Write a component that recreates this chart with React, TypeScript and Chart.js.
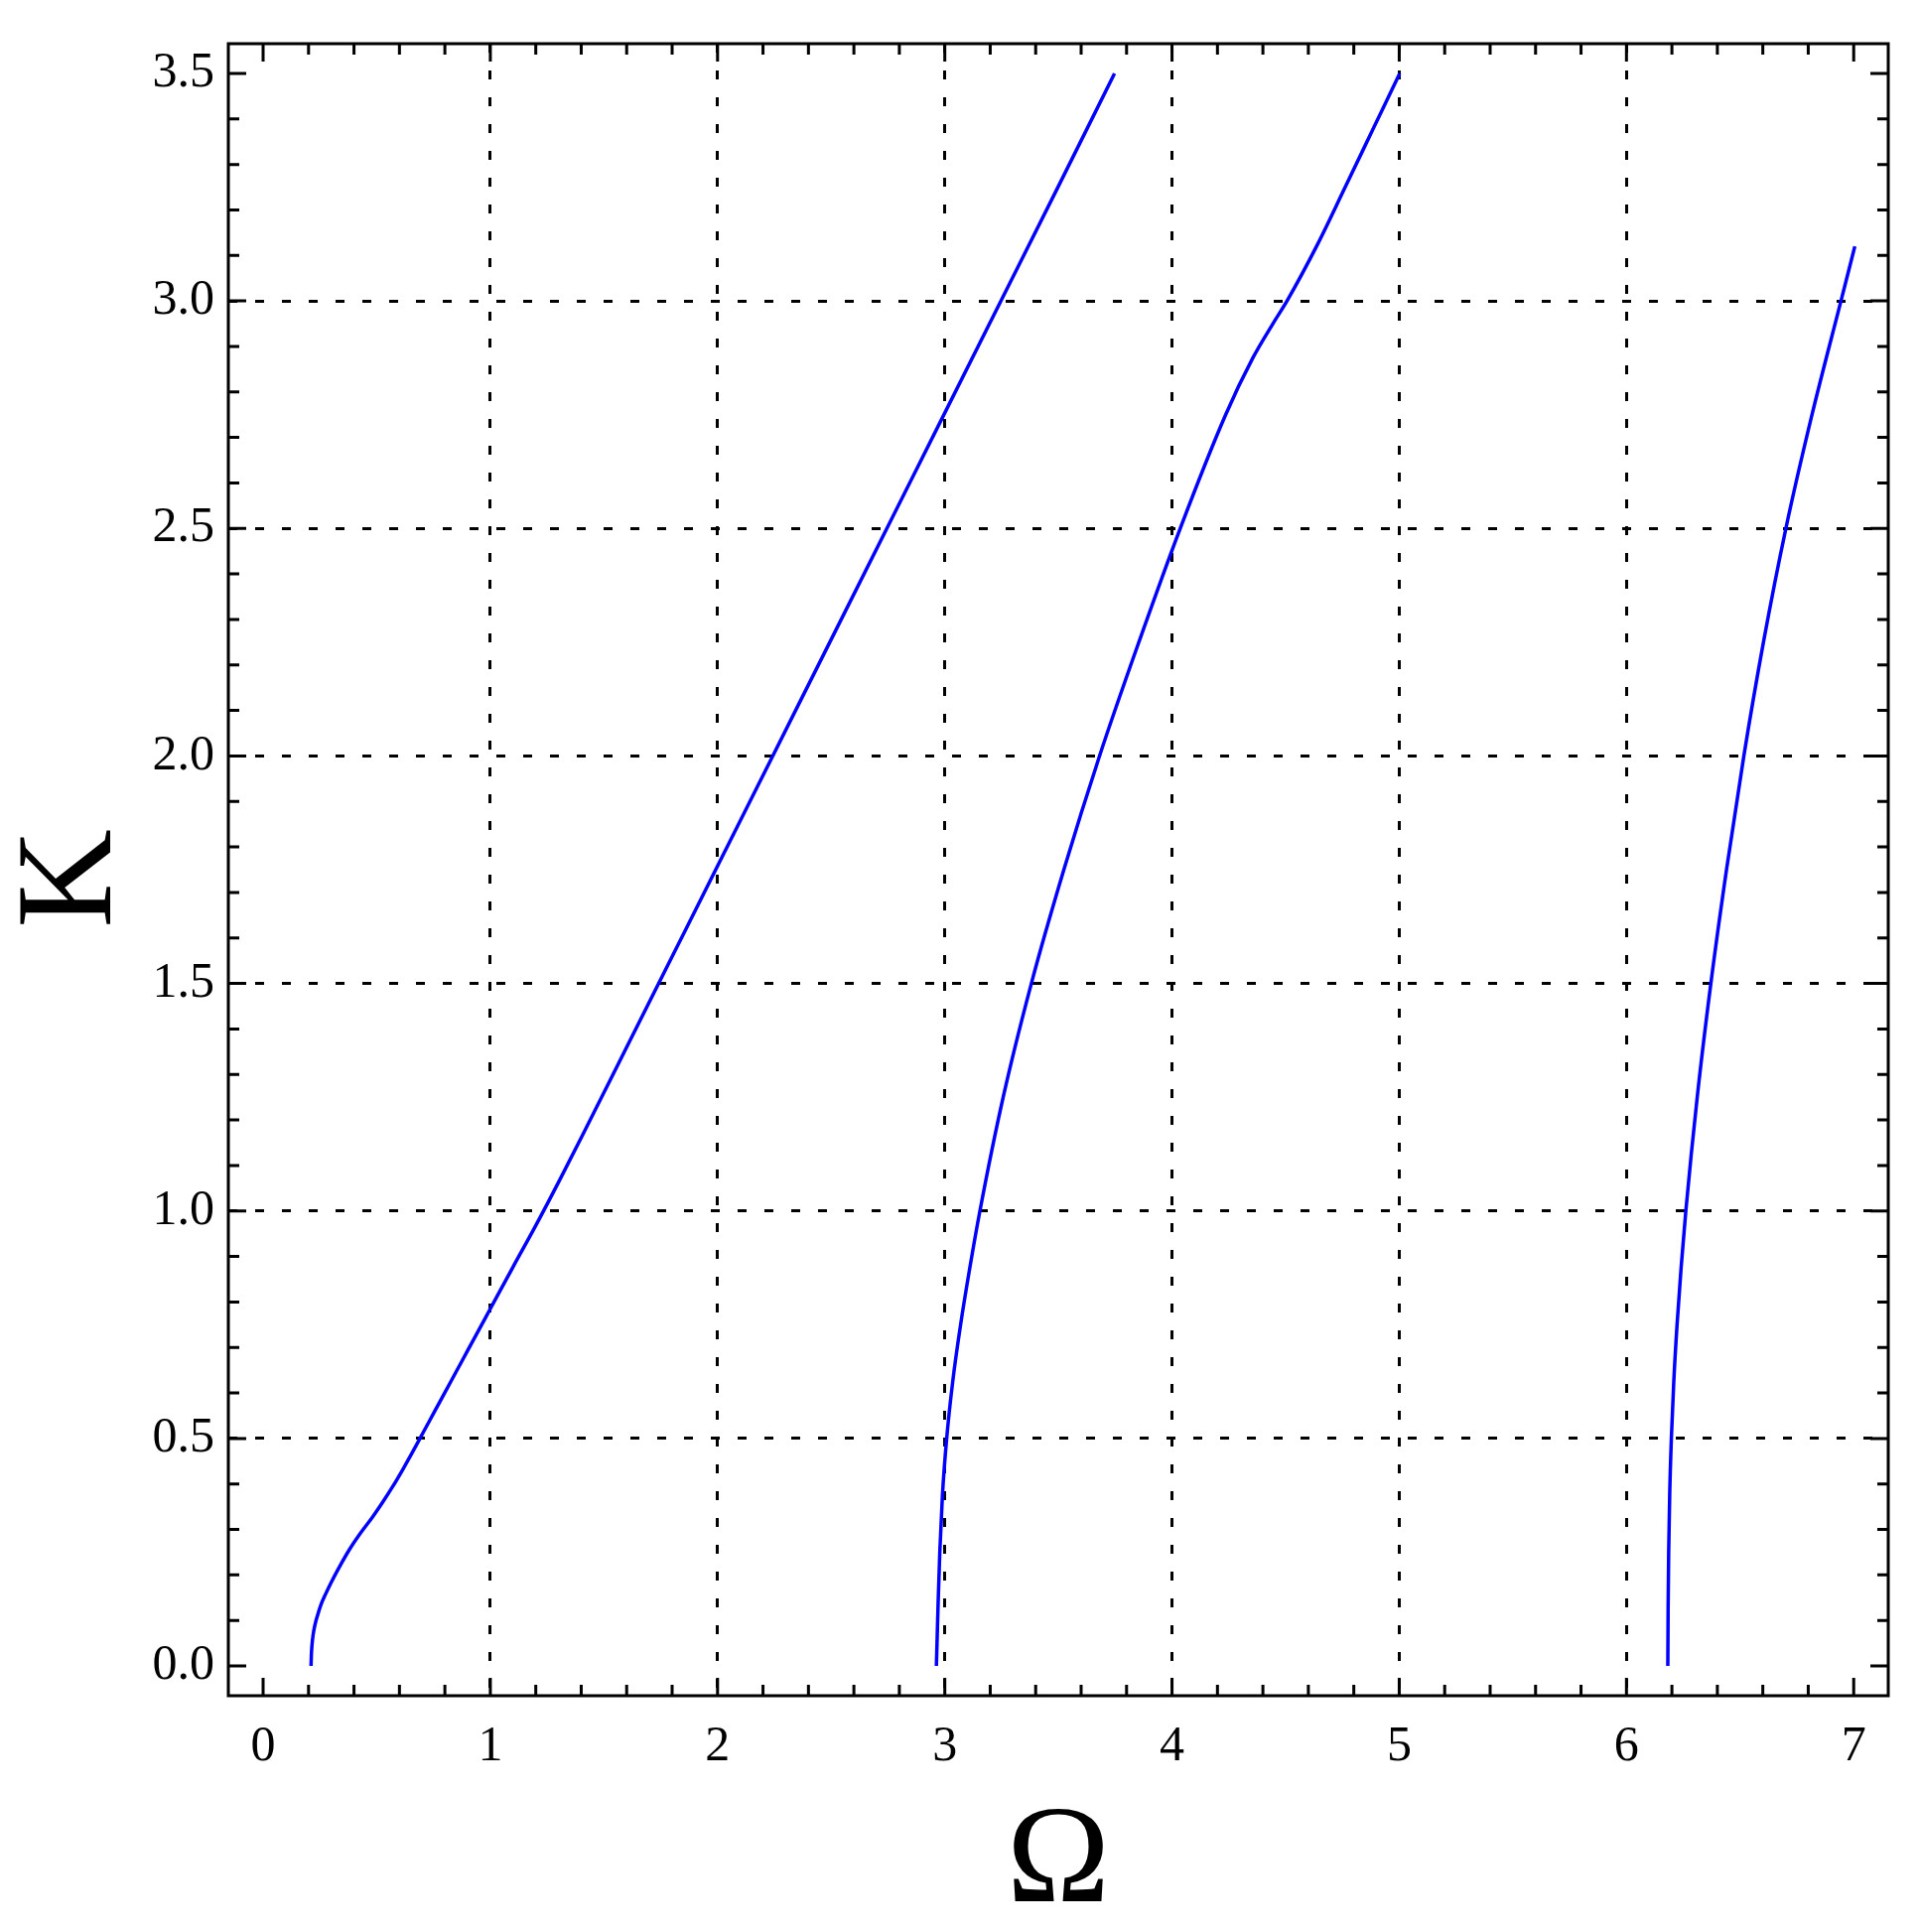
import React, { useEffect, useRef } from 'react';
import { Chart, registerables } from 'chart.js';

Chart.register(...registerables);

// ---- axis ticks / grid ----
const X_TICKS = [0, 1, 2, 3, 4, 5, 6, 7];
const Y_TICKS = [0, 0.5, 1, 1.5, 2, 2.5, 3, 3.5];
const X_GRID = [1, 2, 3, 4, 5, 6];
const Y_GRID = [0.5, 1, 1.5, 2, 2.5, 3];
const X_MINOR_STEP = 0.2;
const Y_MINOR_STEP = 0.1;
const X_MIN = -0.153;
const X_MAX = 7.152;
const Y_MIN = -0.0654;
const Y_MAX = 3.5654;
const X_TITLE = 'Ω';
const Y_TITLE = 'K';

// ---- branch 1 ----
const B1_OMEGA = [
  0.211, 0.2125, 0.215, 0.220, 0.228, 0.240, 0.255, 0.275, 0.300, 0.335, 0.380, 0.430, 0.481,
  0.525, 0.570, 0.615, 0.660, 0.700, 0.750, 0.800, 0.850, 0.900, 0.950, 1.000, 1.100, 1.200,
  1.300, 1.400, 1.600, 1.800, 2.000, 2.250, 2.500, 2.750, 3.000, 3.250, 3.500, 3.747,
];
const B1_K = [
  0.000, 0.025, 0.045, 0.068, 0.090, 0.112, 0.135, 0.158, 0.184, 0.217, 0.256, 0.293, 0.327,
  0.359, 0.394, 0.432, 0.472, 0.509, 0.555, 0.601, 0.647, 0.693, 0.739, 0.785, 0.877, 0.968,
  1.063, 1.161, 1.360, 1.559, 1.758, 2.007, 2.256, 2.505, 2.754, 3.003, 3.252, 3.500,
];

// ---- branch 2 ----
const B2_OMEGA = [
  2.963, 2.9658, 2.9685, 2.9714, 2.978, 2.9896, 3.0083, 3.0349, 3.0696, 3.1102, 3.1546, 3.257,
  3.381, 3.524, 3.681, 3.854, 4.036, 4.236, 4.356, 4.444, 4.506, 4.641, 4.762, 4.882, 5.002,
];
const B2_K = [
  0.000, 0.050, 0.100, 0.150, 0.250, 0.375, 0.500, 0.625, 0.750, 0.875, 1.000, 1.250,
  1.500, 1.750, 2.000, 2.250, 2.500, 2.750, 2.875, 2.950, 3.000, 3.125, 3.250, 3.375, 3.500,
];

// ---- branch 3 ----
const B3_OMEGA = [
  6.182, 6.1833, 6.1858, 6.1902, 6.1976, 6.2082, 6.2226, 6.2404, 6.2613, 6.3114, 6.3714,
  6.4402, 6.5165, 6.6028, 6.7015, 6.8165, 6.944, 7.005,
];
const B3_K = [
  0.000, 0.125, 0.250, 0.375, 0.500, 0.625, 0.750, 0.875, 1.000, 1.250, 1.500,
  1.750, 2.000, 2.250, 2.500, 2.750, 3.000, 3.120,
];

const toPoints = (xs: number[], ys: number[]) => xs.map((x, i) => ({ x, y: ys[i] }));

const near = (v: number, arr: number[]) => arr.some((a) => Math.abs(a - v) < 1e-6);

const frameTicksPlugin = {
  id: 'frameTicks',
  afterDraw(chart: any) {
    const { ctx, chartArea: a, scales } = chart;
    const xs = scales.x;
    const ys = scales.y;
    const MAJOR = 18;
    const MINOR = 11;
    ctx.save();
    ctx.strokeStyle = '#000';
    ctx.lineWidth = 3;
    ctx.lineCap = 'butt';
    ctx.setLineDash([]);
    ctx.beginPath();
    const xk0 = Math.ceil(xs.min / X_MINOR_STEP - 1e-9);
    const xk1 = Math.floor(xs.max / X_MINOR_STEP + 1e-9);
    for (let k = xk0; k <= xk1; k++) {
      const v = k * X_MINOR_STEP;
      const len = near(v, X_TICKS) ? MAJOR : MINOR;
      const p = xs.getPixelForValue(v);
      ctx.moveTo(p, a.bottom);
      ctx.lineTo(p, a.bottom - len);
      ctx.moveTo(p, a.top);
      ctx.lineTo(p, a.top + len);
    }
    const yk0 = Math.ceil(ys.min / Y_MINOR_STEP - 1e-9);
    const yk1 = Math.floor(ys.max / Y_MINOR_STEP + 1e-9);
    for (let k = yk0; k <= yk1; k++) {
      const v = k * Y_MINOR_STEP;
      const len = near(v, Y_TICKS) ? MAJOR : MINOR;
      const p = ys.getPixelForValue(v);
      ctx.moveTo(a.left, p);
      ctx.lineTo(a.left + len, p);
      ctx.moveTo(a.right, p);
      ctx.lineTo(a.right - len, p);
    }
    ctx.stroke();
    ctx.strokeRect(a.left, a.top, a.right - a.left, a.bottom - a.top);

    // y-axis title, rotated
    ctx.translate(75, (a.top + a.bottom) / 2 + 9);
    ctx.rotate(-Math.PI / 2);
    ctx.fillStyle = '#000';
    ctx.font = '138px "Liberation Serif"';
    ctx.textAlign = 'center';
    ctx.textBaseline = 'middle';
    ctx.fillText(Y_TITLE, 0, 0);
    ctx.restore();
  },
};

export default function App() {
  const ref = useRef<HTMLCanvasElement | null>(null);

  useEffect(() => {
    if (!ref.current) return;
    const lineStyle = {
      showLine: true,
      borderColor: '#0000ff',
      backgroundColor: '#0000ff',
      borderWidth: 3.5,
      pointRadius: 0,
      pointHoverRadius: 0,
      cubicInterpolationMode: 'monotone' as const,
      fill: false,
    };
    const chart = new Chart(ref.current, {
      type: 'scatter',
      data: {
        datasets: [
          { label: 'branch 1', data: toPoints(B1_OMEGA, B1_K), ...lineStyle },
          { label: 'branch 2', data: toPoints(B2_OMEGA, B2_K), ...lineStyle },
          { label: 'branch 3', data: toPoints(B3_OMEGA, B3_K), ...lineStyle },
        ],
      },
      options: {
        responsive: false,
        animation: false,
        devicePixelRatio: 1,
        layout: { padding: { left: 0, top: 42, right: 33, bottom: 0 } },
        plugins: {
          legend: { display: false },
          tooltip: { enabled: false },
        },
        events: [],
        scales: {
          x: {
            type: 'linear',
            min: X_MIN,
            max: X_MAX,
            afterBuildTicks: (s: any) => {
              s.ticks = X_TICKS.map((v) => ({ value: v }));
            },
            afterFit: (s: any) => {
              s.height = 238;
            },
            grid: {
              drawTicks: false,
              lineWidth: 3,
              color: (c: any) => (c.tick && near(c.tick.value, X_GRID) ? '#000' : 'rgba(0,0,0,0)'),
            },
            border: { display: false, dash: [9, 18] },
            ticks: {
              padding: 22,
              color: '#000',
              autoSkip: false,
              maxRotation: 0,
              font: { family: 'Liberation Serif', size: 50 },
              callback: (v: any) => String(Math.round(Number(v))),
            },
            title: {
              display: true,
              text: X_TITLE,
              color: '#000',
              font: { family: 'Liberation Serif', size: 140, lineHeight: '120px' },
              padding: { top: 0, bottom: 8 },
            },
          },
          y: {
            type: 'linear',
            min: Y_MIN,
            max: Y_MAX,
            afterBuildTicks: (s: any) => {
              s.ticks = Y_TICKS.map((v) => ({ value: v }));
            },
            afterFit: (s: any) => {
              s.width = 230;
            },
            grid: {
              drawTicks: false,
              lineWidth: 3,
              color: (c: any) => (c.tick && near(c.tick.value, Y_GRID) ? '#000' : 'rgba(0,0,0,0)'),
            },
            border: { display: false, dash: [9, 18] },
            ticks: {
              padding: 14,
              color: '#000',
              autoSkip: false,
              font: { family: 'Liberation Serif', size: 50 },
              callback: (v: any) => Number(v).toFixed(1),
            },
            title: { display: false, text: Y_TITLE },
          },
        },
      },
      plugins: [frameTicksPlugin],
    });
    return () => chart.destroy();
  }, []);

  return (
    <div style={{ position: 'absolute', left: 0, top: 0, width: 1935, height: 1946, background: '#fff' }}>
      <canvas ref={ref} width={1935} height={1946} style={{ display: 'block', width: 1935, height: 1946 }} />
    </div>
  );
}
